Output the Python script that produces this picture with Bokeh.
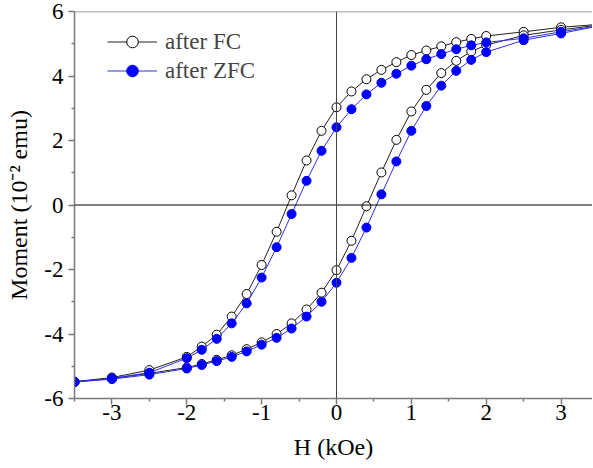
from bokeh.plotting import figure
from bokeh.models import (Range1d, FixedTicker, Span, Legend, LegendItem)
from bokeh.embed import file_html
from bokeh.resources import INLINE

# ---- data (H in kOe, moment in 10^-2 emu) ----
H_desc = [3.5, 3, 2.5, 2, 1.8, 1.6, 1.4, 1.2, 1.0, 0.8, 0.6, 0.4, 0.2, 0,
          -0.2, -0.4, -0.6, -0.8, -1.0, -1.2, -1.4, -1.6, -1.8, -2, -2.5, -3, -3.5]
FC_desc = [5.60, 5.51, 5.37, 5.24, 5.15, 5.05, 4.92, 4.79, 4.65, 4.43, 4.19, 3.90, 3.52, 3.03,
           2.30, 1.38, 0.30, -0.83, -1.86, -2.76, -3.46, -4.02, -4.39, -4.71, -5.12, -5.35, -5.48]
ZFC_desc = [5.56, 5.37, 5.17, 5.04, 4.95, 4.83, 4.68, 4.52, 4.32, 4.07, 3.79, 3.43, 2.97, 2.41,
            1.68, 0.75, -0.28, -1.31, -2.25, -3.05, -3.67, -4.15, -4.49, -4.75, -5.20, -5.37, -5.49]

H_asc = [-3.5, -3, -2.5, -2, -1.8, -1.6, -1.4, -1.2, -1.0, -0.8, -0.6, -0.4, -0.2, 0,
         0.2, 0.4, 0.6, 0.8, 1.0, 1.2, 1.4, 1.6, 1.8, 2, 2.5, 3, 3.5]
FC_asc = [-5.48, -5.38, -5.22, -5.04, -4.93, -4.80, -4.66, -4.47, -4.26, -4.00, -3.67, -3.24, -2.72, -2.02,
          -1.11, -0.04, 1.01, 2.02, 2.90, 3.57, 4.09, 4.47, 4.76, 4.96, 5.26, 5.43, 5.58]
ZFC_asc = [-5.49, -5.40, -5.26, -5.07, -4.96, -4.84, -4.71, -4.54, -4.33, -4.12, -3.83, -3.46, -3.00, -2.41,
           -1.64, -0.70, 0.33, 1.35, 2.30, 3.07, 3.70, 4.16, 4.50, 4.74, 5.11, 5.32, 5.55]

x_ticks = [-3, -2, -1, 0, 1, 2, 3]
x_minor = [-3.5, -2.5, -1.5, -0.5, 0.5, 1.5, 2.5, 3.5]
y_ticks = [-6, -4, -2, 0, 2, 4, 6]
y_minor = [-5, -3, -1, 1, 3, 5]

FONT = "Liberation Serif"
AXC = "#7a7a7a"

p = figure(width=592, height=466, output_backend="svg", toolbar_location=None,
           x_range=Range1d(-3.5, 3.42), y_range=Range1d(-6, 6),
           min_border_left=74, min_border_right=0, min_border_top=11, min_border_bottom=68)
p.outline_line_color = None
p.xgrid.visible = False
p.ygrid.visible = False

# zero lines and top frame
p.add_layout(Span(location=0, dimension="width", line_color="black", line_width=1))
p.add_layout(Span(location=0, dimension="height", line_color="#444444", line_width=1))
p.add_layout(Span(location=6, dimension="width", line_color=AXC, line_width=1.5))

H_all = H_desc + H_asc
FC_all = FC_desc + FC_asc
ZFC_all = ZFC_desc + ZFC_asc

fc_line = p.line(H_all, FC_all, line_color="#222222", line_width=1)
fc_pts = p.scatter(H_all, FC_all, size=9, marker="circle", fill_color="white",
                   line_color="black", line_width=1)
zfc_line = p.line(H_all, ZFC_all, line_color="#3030e0", line_width=1)
zfc_pts = p.scatter(H_all, ZFC_all, size=9, marker="circle", fill_color="#0000ff",
                    line_color="#0000ff", line_width=1)

for ax, ticks, minor in ((p.xaxis[0], x_ticks, x_minor), (p.yaxis[0], y_ticks, y_minor)):
    ax.ticker = FixedTicker(ticks=ticks, minor_ticks=minor)
    ax.major_label_overrides = {t: str(t) for t in ticks}
    ax.axis_line_color = AXC
    ax.axis_line_width = 1.5
    ax.major_tick_line_color = AXC
    ax.minor_tick_line_color = AXC
    ax.major_tick_line_width = 1.5
    ax.minor_tick_line_width = 1.5
    ax.major_tick_out = 6
    ax.major_tick_in = 0
    ax.minor_tick_out = 3
    ax.minor_tick_in = 0
    ax.major_label_text_font = FONT
    ax.major_label_text_font_size = "23px"
    ax.major_label_text_color = "black"
    ax.axis_label_text_font = FONT
    ax.axis_label_text_font_size = "24px"
    ax.axis_label_text_font_style = "normal"
    ax.axis_label_text_color = "black"

p.xaxis.axis_label = "H (kOe)"
p.yaxis.axis_label = "Moment (10\u207b\u00b2 emu)"
p.xaxis.major_label_standoff = 0
p.xaxis.axis_label_standoff = 11
p.yaxis.major_label_standoff = 5
p.yaxis.axis_label_standoff = 9

legend = Legend(items=[LegendItem(label="after FC", renderers=[fc_line, fc_pts]),
                       LegendItem(label="after ZFC", renderers=[zfc_line, zfc_pts])],
                location=(33, 313), padding=0, margin=0, spacing=0,
                glyph_width=50, glyph_height=29, label_height=29, label_standoff=8,
                label_text_font=FONT, label_text_font_size="23px",
                border_line_color=None, background_fill_alpha=0)
p.add_layout(legend)

open("out.html", "w").write(file_html(p, INLINE))
